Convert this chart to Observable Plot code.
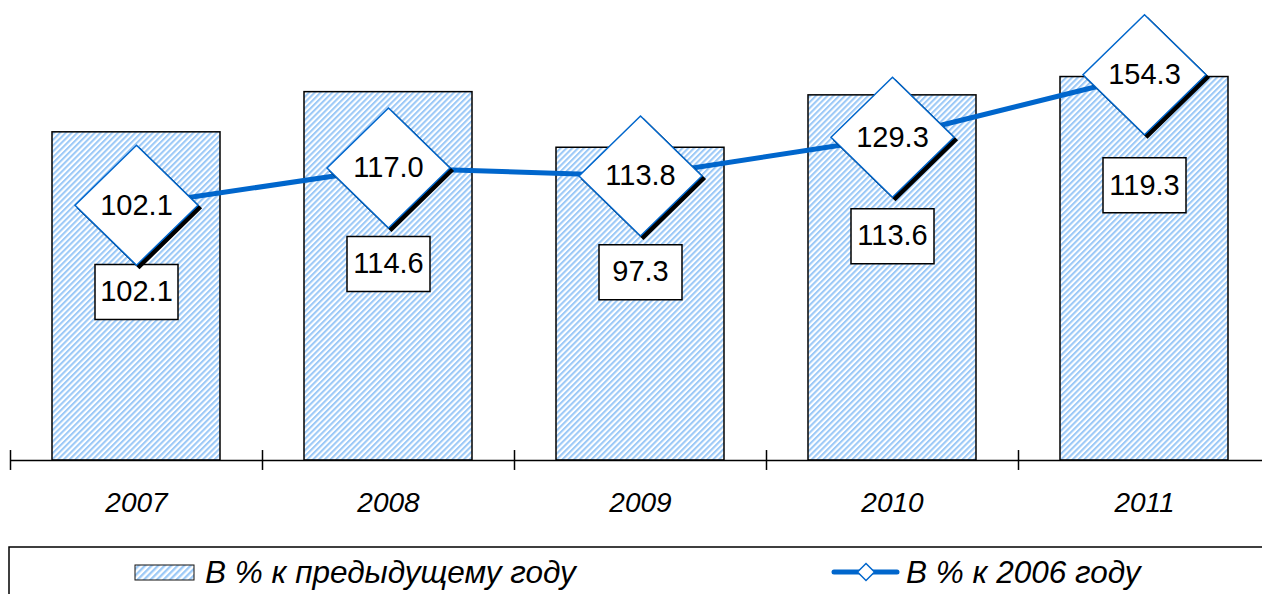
<!DOCTYPE html>
<html><head><meta charset="utf-8">
<script src="https://cdn.jsdelivr.net/npm/d3@7"></script>
<script src="https://cdn.jsdelivr.net/npm/@observablehq/plot@0.6"></script>
<style>
body{margin:0;background:#fff;overflow:hidden;}
#wrap{position:relative;width:1262px;height:594px;overflow:hidden;background:#fff;}
#wrap svg{position:absolute;left:0;}
</style></head><body><div id="wrap"></div>
<script>
// ---- data ----
const years = ["2007", "2008", "2009", "2010", "2011"];
const prevYear = [102.1, 114.6, 97.3, 113.6, 119.3];   // bars: % to previous year (primary axis)
const vs2006 = [102.1, 117.0, 113.8, 129.3, 154.3];    // line: % to 2006 (secondary axis)
const barLabelAt = [52.4, 61.1, 58.6, 69.8, 85.6];     // bar-label anchors, primary-axis units
const seriesNames = ["В % к предыдущему году", "В % к 2006 году"];
const primaryMax = 140, secondaryMax = 180;

const rows = years.map((year, i) => ({
  i, year, bar: prevYear[i], line: vs2006[i],
  lineY: vs2006[i] * primaryMax / secondaryMax,
  labelAt: barLabelAt[i]
}));

const FONT = "'Liberation Sans', Arial, sans-serif";
const BLUE = "#0066cc";
const gap = 1 / 6;
const cx = d => d.i + 0.5;

const diamond = {draw(ctx) { ctx.moveTo(0, -60); ctx.lineTo(61.5, 0); ctx.lineTo(0, 60); ctx.lineTo(-61.5, 0); ctx.closePath(); }};
const box = {draw(ctx) { ctx.rect(-41.5, -27.5, 83, 55); }};

const chart = Plot.plot({
  width: 1262, height: 546,
  marginLeft: 10, marginRight: 0, marginTop: 10, marginBottom: 86,
  x: {type: "linear", domain: [0, years.length], range: [10, 1270], axis: null},
  y: {domain: [0, primaryMax], axis: null},
  style: {fontFamily: FONT, background: "transparent", overflow: "visible"},
  marks: [
    Plot.rectY(rows, {x1: d => d.i + gap, x2: d => d.i + 1 - gap, y1: 0, y2: "bar",
      fill: "url(#hatch)", stroke: "#000", strokeWidth: 1.5}),
    Plot.ruleY([0], {stroke: "#000", strokeWidth: 1.5}),
    Plot.ruleX(d3.range(years.length + 1), {x: d => d, y1: -3.1, y2: 3.1, stroke: "#000", strokeWidth: 1.5}),
    Plot.text(rows, {x: cx, y: 0, dy: 43, text: "year", fontSize: 28, fontStyle: "italic", fill: "#000"}),
    Plot.dot(rows, {x: cx, y: "labelAt", symbol: box, r: 5, fill: "#fff", stroke: "#000", strokeWidth: 1.5}),
    Plot.text(rows, {x: cx, y: "labelAt", text: d => d.bar.toFixed(1), fontSize: 29, fill: "#000"}),
    Plot.line(rows, {x: cx, y: "lineY", stroke: BLUE, strokeWidth: 5}),
    Plot.dot(rows, {x: cx, y: "lineY", symbol: diamond, r: 5, fill: "#000", stroke: "#000", strokeWidth: 1.5, dx: 3, dy: 3}),
    Plot.dot(rows, {x: cx, y: "lineY", symbol: diamond, r: 5, fill: "#fff", stroke: BLUE, strokeWidth: 1.5}),
    Plot.text(rows, {x: cx, y: "lineY", text: d => d.line.toFixed(1), fontSize: 29, fill: "#000"})
  ]
});

const patternDef = (id, s) => `<pattern id="${id}" width="${s}" height="${s}" patternUnits="userSpaceOnUse" patternTransform="rotate(45)"><rect width="${s}" height="${s}" fill="#fff"/><rect width="${s / 2}" height="${s}" fill="#9cc9f7"/></pattern>`;
d3.select(chart).insert("defs", ":first-child").html(patternDef("hatch", 4.1));
chart.style.top = "0px";
document.getElementById("wrap").appendChild(chart);

// ---- legend (below the chart) ----
const lg = d3.select("#wrap").append("svg")
  .attr("width", 1262).attr("height", 54).style("top", "540px");
lg.append("defs").html(patternDef("hatch2", 4.6));
lg.append("path").attr("d", "M9,60V7H1300").attr("fill", "none").attr("stroke", "#000").attr("stroke-width", 1.5);
lg.append("rect").attr("x", 135).attr("y", 25).attr("width", 59).attr("height", 15)
  .attr("fill", "url(#hatch2)").attr("stroke", "#111").attr("stroke-width", 1);
lg.append("text").attr("x", 205).attr("y", 43).text(seriesNames[0])
  .attr("font-family", FONT).attr("font-size", 31.5).attr("font-style", "italic").attr("fill", "#000");
lg.append("line").attr("x1", 834).attr("x2", 897).attr("y1", 32).attr("y2", 32)
  .attr("stroke", BLUE).attr("stroke-width", 5).attr("stroke-linecap", "round");
lg.append("path").attr("d", "M866,23.5L874.5,32L866,40.5L857.5,32Z")
  .attr("fill", "#fff").attr("stroke", BLUE).attr("stroke-width", 1.5);
lg.append("text").attr("x", 906).attr("y", 43).text(seriesNames[1])
  .attr("font-family", FONT).attr("font-size", 31.5).attr("font-style", "italic").attr("fill", "#000");
</script>
</body></html>
